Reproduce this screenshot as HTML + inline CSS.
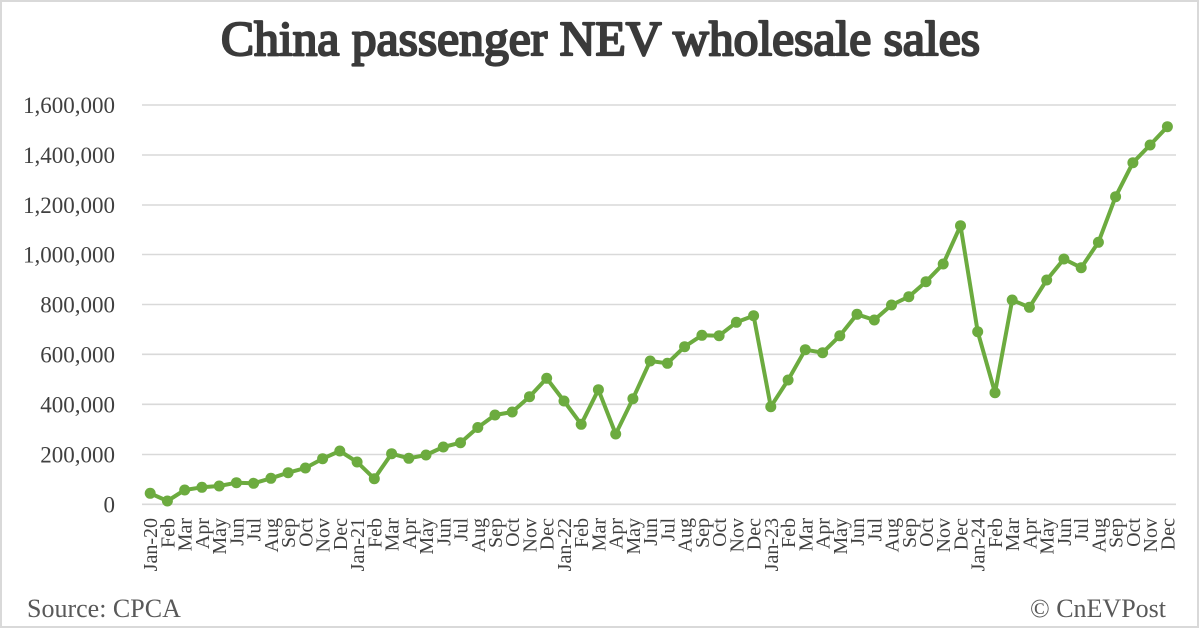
<!DOCTYPE html>
<html><head><meta charset="utf-8"><style>
html,body{margin:0;padding:0;background:#fff;}
svg{display:block;}
</style></head><body>
<svg width="1200" height="628" viewBox="0 0 1200 628" xmlns="http://www.w3.org/2000/svg">
<rect x="0" y="0" width="1200" height="628" fill="#fff"/>
<rect x="1" y="1" width="1197" height="626" fill="none" stroke="#d9d9d9" stroke-width="2"/>
<text x="221" y="55" textLength="759" lengthAdjust="spacingAndGlyphs" font-family="'Liberation Serif', serif" font-size="49" fill="#3a3a3a" stroke="#3a3a3a" stroke-width="2.2" stroke-linejoin="round">China passenger NEV wholesale sales</text>
<g stroke="#d9d9d9" stroke-width="1.6">
<line x1="142" y1="105" x2="1176" y2="105"/>
<line x1="142" y1="155" x2="1176" y2="155"/>
<line x1="142" y1="205" x2="1176" y2="205"/>
<line x1="142" y1="254.5" x2="1176" y2="254.5"/>
<line x1="142" y1="304.5" x2="1176" y2="304.5"/>
<line x1="142" y1="354.3" x2="1176" y2="354.3"/>
<line x1="142" y1="404.3" x2="1176" y2="404.3"/>
<line x1="142" y1="454.5" x2="1176" y2="454.5"/>
<line x1="142" y1="504.3" x2="1176" y2="504.3"/>
</g>
<g font-family="'Liberation Serif', serif" font-size="23" fill="#404040" text-anchor="end">
<text x="115" y="113">1,600,000</text>
<text x="115" y="163">1,400,000</text>
<text x="115" y="213">1,200,000</text>
<text x="115" y="262.5">1,000,000</text>
<text x="115" y="312.5">800,000</text>
<text x="115" y="362.3">600,000</text>
<text x="115" y="412.3">400,000</text>
<text x="115" y="462.5">200,000</text>
<text x="115" y="512.3">0</text>
</g>
<g font-family="'Liberation Serif', serif" font-size="20" fill="#404040" text-anchor="end">
<text transform="translate(157.2,518) rotate(-90)">Jan-20</text>
<text transform="translate(174.4,518) rotate(-90)">Feb</text>
<text transform="translate(191.7,518) rotate(-90)">Mar</text>
<text transform="translate(208.9,518) rotate(-90)">Apr</text>
<text transform="translate(226.2,518) rotate(-90)">May</text>
<text transform="translate(243.4,518) rotate(-90)">Jun</text>
<text transform="translate(260.6,518) rotate(-90)">Jul</text>
<text transform="translate(277.9,518) rotate(-90)">Aug</text>
<text transform="translate(295.1,518) rotate(-90)">Sep</text>
<text transform="translate(312.4,518) rotate(-90)">Oct</text>
<text transform="translate(329.6,518) rotate(-90)">Nov</text>
<text transform="translate(346.8,518) rotate(-90)">Dec</text>
<text transform="translate(364.1,518) rotate(-90)">Jan-21</text>
<text transform="translate(381.3,518) rotate(-90)">Feb</text>
<text transform="translate(398.6,518) rotate(-90)">Mar</text>
<text transform="translate(415.8,518) rotate(-90)">Apr</text>
<text transform="translate(433.0,518) rotate(-90)">May</text>
<text transform="translate(450.3,518) rotate(-90)">Jun</text>
<text transform="translate(467.5,518) rotate(-90)">Jul</text>
<text transform="translate(484.8,518) rotate(-90)">Aug</text>
<text transform="translate(502.0,518) rotate(-90)">Sep</text>
<text transform="translate(519.2,518) rotate(-90)">Oct</text>
<text transform="translate(536.5,518) rotate(-90)">Nov</text>
<text transform="translate(553.7,518) rotate(-90)">Dec</text>
<text transform="translate(571.0,518) rotate(-90)">Jan-22</text>
<text transform="translate(588.2,518) rotate(-90)">Feb</text>
<text transform="translate(605.4,518) rotate(-90)">Mar</text>
<text transform="translate(622.7,518) rotate(-90)">Apr</text>
<text transform="translate(639.9,518) rotate(-90)">May</text>
<text transform="translate(657.2,518) rotate(-90)">Jun</text>
<text transform="translate(674.4,518) rotate(-90)">Jul</text>
<text transform="translate(691.6,518) rotate(-90)">Aug</text>
<text transform="translate(708.9,518) rotate(-90)">Sep</text>
<text transform="translate(726.1,518) rotate(-90)">Oct</text>
<text transform="translate(743.4,518) rotate(-90)">Nov</text>
<text transform="translate(760.6,518) rotate(-90)">Dec</text>
<text transform="translate(777.8,518) rotate(-90)">Jan-23</text>
<text transform="translate(795.1,518) rotate(-90)">Feb</text>
<text transform="translate(812.3,518) rotate(-90)">Mar</text>
<text transform="translate(829.6,518) rotate(-90)">Apr</text>
<text transform="translate(846.8,518) rotate(-90)">May</text>
<text transform="translate(864.0,518) rotate(-90)">Jun</text>
<text transform="translate(881.3,518) rotate(-90)">Jul</text>
<text transform="translate(898.5,518) rotate(-90)">Aug</text>
<text transform="translate(915.8,518) rotate(-90)">Sep</text>
<text transform="translate(933.0,518) rotate(-90)">Oct</text>
<text transform="translate(950.2,518) rotate(-90)">Nov</text>
<text transform="translate(967.5,518) rotate(-90)">Dec</text>
<text transform="translate(984.7,518) rotate(-90)">Jan-24</text>
<text transform="translate(1002.0,518) rotate(-90)">Feb</text>
<text transform="translate(1019.2,518) rotate(-90)">Mar</text>
<text transform="translate(1036.4,518) rotate(-90)">Apr</text>
<text transform="translate(1053.7,518) rotate(-90)">May</text>
<text transform="translate(1070.9,518) rotate(-90)">Jun</text>
<text transform="translate(1088.2,518) rotate(-90)">Jul</text>
<text transform="translate(1105.4,518) rotate(-90)">Aug</text>
<text transform="translate(1122.6,518) rotate(-90)">Sep</text>
<text transform="translate(1139.9,518) rotate(-90)">Oct</text>
<text transform="translate(1157.1,518) rotate(-90)">Nov</text>
<text transform="translate(1174.4,518) rotate(-90)">Dec</text>
</g>
<polyline fill="none" stroke="#6cab3f" stroke-width="4" stroke-linejoin="round" stroke-linecap="round" points="150.2,493.3 167.4,501 184.7,490 201.9,487.3 219.2,486 236.4,482.7 253.6,483.3 270.9,478.3 288.1,472.7 305.4,468 322.6,458.7 339.8,451 357.1,462 374.3,478.7 391.6,453.7 408.8,458.3 426.0,455 443.3,447 460.5,442.7 477.8,427.5 495.0,415 512.2,412 529.5,396.7 546.7,378.3 564.0,401 581.2,424.3 598.4,389.7 615.7,434 632.9,398.7 650.2,361 667.4,363.3 684.6,346.7 701.9,335.3 719.1,335.7 736.4,322.3 753.6,315.7 770.8,406.7 788.1,380 805.3,349.7 822.6,352.7 839.8,335.8 857.0,314.3 874.3,320 891.5,305 908.8,296.7 926.0,281.7 943.2,264 960.5,225.7 977.7,331.7 995.0,392.7 1012.2,300 1029.4,307.3 1046.7,280 1063.9,259 1081.2,267.7 1098.4,242.3 1115.6,196.7 1132.9,162.7 1150.1,145 1167.4,126.7"/>
<g fill="#6cab3f">
<circle cx="150.2" cy="493.3" r="5.5"/><circle cx="167.4" cy="501" r="5.5"/><circle cx="184.7" cy="490" r="5.5"/><circle cx="201.9" cy="487.3" r="5.5"/><circle cx="219.2" cy="486" r="5.5"/><circle cx="236.4" cy="482.7" r="5.5"/><circle cx="253.6" cy="483.3" r="5.5"/><circle cx="270.9" cy="478.3" r="5.5"/><circle cx="288.1" cy="472.7" r="5.5"/><circle cx="305.4" cy="468" r="5.5"/><circle cx="322.6" cy="458.7" r="5.5"/><circle cx="339.8" cy="451" r="5.5"/>
<circle cx="357.1" cy="462" r="5.5"/><circle cx="374.3" cy="478.7" r="5.5"/><circle cx="391.6" cy="453.7" r="5.5"/><circle cx="408.8" cy="458.3" r="5.5"/><circle cx="426.0" cy="455" r="5.5"/><circle cx="443.3" cy="447" r="5.5"/><circle cx="460.5" cy="442.7" r="5.5"/><circle cx="477.8" cy="427.5" r="5.5"/><circle cx="495.0" cy="415" r="5.5"/><circle cx="512.2" cy="412" r="5.5"/><circle cx="529.5" cy="396.7" r="5.5"/><circle cx="546.7" cy="378.3" r="5.5"/>
<circle cx="564.0" cy="401" r="5.5"/><circle cx="581.2" cy="424.3" r="5.5"/><circle cx="598.4" cy="389.7" r="5.5"/><circle cx="615.7" cy="434" r="5.5"/><circle cx="632.9" cy="398.7" r="5.5"/><circle cx="650.2" cy="361" r="5.5"/><circle cx="667.4" cy="363.3" r="5.5"/><circle cx="684.6" cy="346.7" r="5.5"/><circle cx="701.9" cy="335.3" r="5.5"/><circle cx="719.1" cy="335.7" r="5.5"/><circle cx="736.4" cy="322.3" r="5.5"/><circle cx="753.6" cy="315.7" r="5.5"/>
<circle cx="770.8" cy="406.7" r="5.5"/><circle cx="788.1" cy="380" r="5.5"/><circle cx="805.3" cy="349.7" r="5.5"/><circle cx="822.6" cy="352.7" r="5.5"/><circle cx="839.8" cy="335.8" r="5.5"/><circle cx="857.0" cy="314.3" r="5.5"/><circle cx="874.3" cy="320" r="5.5"/><circle cx="891.5" cy="305" r="5.5"/><circle cx="908.8" cy="296.7" r="5.5"/><circle cx="926.0" cy="281.7" r="5.5"/><circle cx="943.2" cy="264" r="5.5"/><circle cx="960.5" cy="225.7" r="5.5"/>
<circle cx="977.7" cy="331.7" r="5.5"/><circle cx="995.0" cy="392.7" r="5.5"/><circle cx="1012.2" cy="300" r="5.5"/><circle cx="1029.4" cy="307.3" r="5.5"/><circle cx="1046.7" cy="280" r="5.5"/><circle cx="1063.9" cy="259" r="5.5"/><circle cx="1081.2" cy="267.7" r="5.5"/><circle cx="1098.4" cy="242.3" r="5.5"/><circle cx="1115.6" cy="196.7" r="5.5"/><circle cx="1132.9" cy="162.7" r="5.5"/><circle cx="1150.1" cy="145" r="5.5"/><circle cx="1167.4" cy="126.7" r="5.5"/>
</g>
<text x="27" y="617" font-family="'Liberation Serif', serif" font-size="26" fill="#595959">Source: CPCA</text>
<text x="1166" y="617" text-anchor="end" font-family="'Liberation Serif', serif" font-size="26" fill="#595959">© CnEVPost</text>
</svg>
</body></html>
